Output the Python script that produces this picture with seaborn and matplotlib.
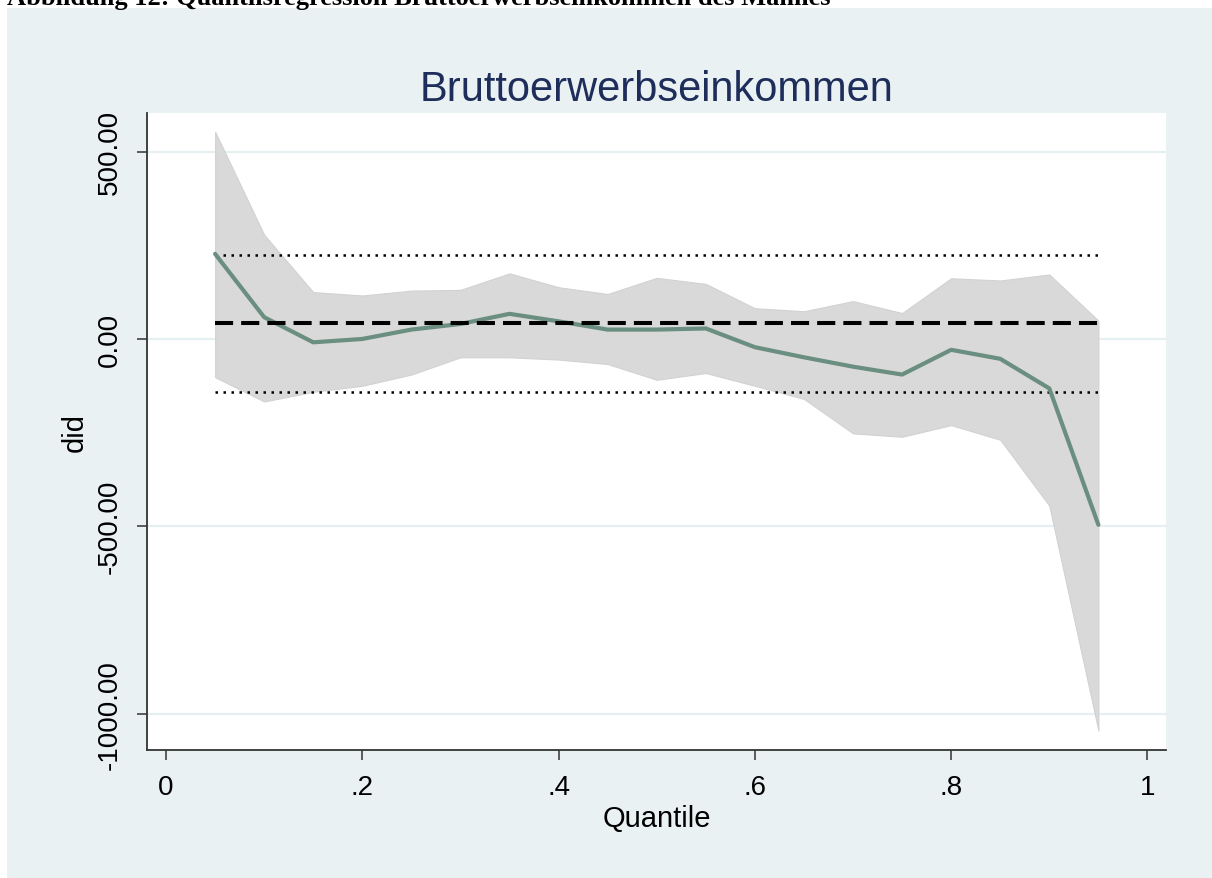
import matplotlib
matplotlib.use("Agg")
import matplotlib.pyplot as plt
from matplotlib.patches import Rectangle
import numpy as np
import pandas as pd
import seaborn as sns

# Quantile regression estimates of the DiD coefficient
quantiles = [0.05, 0.10, 0.15, 0.20, 0.25, 0.30, 0.35, 0.40, 0.45, 0.50,
             0.55, 0.60, 0.65, 0.70, 0.75, 0.80, 0.85, 0.90, 0.95]
coef = [227, 58, -9, 0, 25, 40, 67, 47, 25, 25,
        28, -22, -49, -74, -95, -29, -53, -132, -496]
ci_upper = [553, 278, 125, 116, 129, 131, 175, 138, 120, 163,
            147, 82, 74, 101, 69, 162, 156, 172, 49]
ci_lower = [-102, -167, -141, -125, -95, -49, -49, -55, -67, -109,
            -91, -125, -160, -252, -261, -230, -269, -445, -1045]

# OLS estimate with its confidence interval
ols_coef = 42
ols_lower = -141
ols_upper = 224

x_ticks = [0, 0.2, 0.4, 0.6, 0.8, 1.0]
x_ticklabels = ["0", ".2", ".4", ".6", ".8", "1"]
y_ticks = [500, 0, -500, -1000]
y_ticklabels = ["500.00", "0.00", "-500.00", "-1000.00"]

title = "Bruttoerwerbseinkommen"
caption = "Abbildung 12: Quantilsregression Bruttoerwerbseinkommen des Mannes"

df = pd.DataFrame({"Quantile": quantiles, "did": coef,
                   "lo": ci_lower, "hi": ci_upper})

sns.set_theme(style="white")
plt.rcParams["font.family"] = ["Liberation Sans", "DejaVu Sans"]

W, H = 1212, 879
fig = plt.figure(figsize=(W / 100, H / 100), dpi=100, facecolor="white")

# graph region background
fig.patches.append(Rectangle((7 / W, 0), 1, (H - 9) / H, transform=fig.transFigure,
                             facecolor="#E9F1F3", edgecolor="none", zorder=-10))

fig.text(7 / W, 1 - 5 / H, caption, fontsize=19, fontweight="bold",
         family=["Liberation Serif", "DejaVu Serif"], color="black",
         ha="left", va="baseline")

ax = fig.add_axes([147 / W, (H - 751) / H, (1166 - 147) / W, (751 - 114) / H])
ax.set_zorder(1)
ax.set_facecolor("white")

# horizontal grid lines
for yv in y_ticks:
    ax.axhline(yv, color="#E6EFF2", lw=1.6, zorder=0.5)

ax.fill_between(df["Quantile"], df["lo"], df["hi"], color="#D9D9D9",
                lw=0.8, edgecolor="#D2D2D2", zorder=1)

qmin, qmax = quantiles[0], quantiles[-1]
for yv in (ols_lower, ols_upper):
    ax.plot([qmin, qmax], [yv, yv], color="black", lw=1.8,
            linestyle=(0, (1, 2.2)), zorder=2)

sns.lineplot(data=df, x="Quantile", y="did", ax=ax, color="#6A8E7F",
             lw=3.0, zorder=3, estimator=None, sort=False)

ax.plot([qmin, qmax], [ols_coef, ols_coef], color="black", lw=2.9,
        linestyle=(0, (4.5, 2.0)), zorder=4)

ax.set_xlim(-0.0194, 1.0189)
ax.set_ylim(-1097, 603)

ax.set_xticks(x_ticks)
ax.set_xticklabels(x_ticklabels)
ax.set_yticks(y_ticks)
ax.set_yticklabels(y_ticklabels, rotation=90, va="center")

ax.tick_params(axis="both", which="major", direction="out", length=7.5,
               width=1.1, color="#333333", labelsize=20, labelcolor="black",
               pad=10, bottom=True, left=True)

for side in ("top", "right"):
    ax.spines[side].set_visible(False)
for side in ("left", "bottom"):
    ax.spines[side].set_color("#333333")
    ax.spines[side].set_linewidth(1.3)

ax.set_xlabel("Quantile", fontsize=21, color="black", labelpad=3)
ax.set_ylabel("did", fontsize=21, color="black", labelpad=6)
ax.set_title(title, fontsize=30, color="#1E2D5A", pad=9)

fig.savefig("out.png", dpi=100, facecolor=fig.get_facecolor())
